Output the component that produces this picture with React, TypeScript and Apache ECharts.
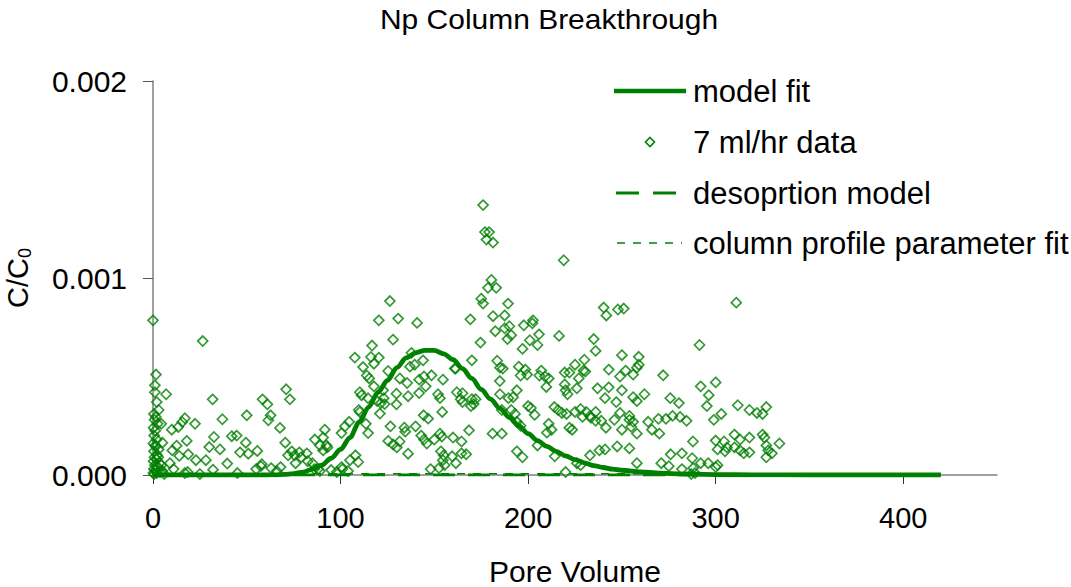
import React, { useEffect, useRef } from "react";
import * as echarts from "echarts";

const FONT = "'Liberation Sans', Arial, Helvetica, sans-serif";
const GREEN = "#008000";

const titleText = "Np Column Breakthrough";
const xAxisName = "Pore Volume";
const xTickValues = [0, 100, 200, 300, 400];
const xMax = 450;
const yMax = 0.002;
const yInterval = 0.001;

// Model fit curve (x = pore volume, y in units of 1e-4 C/C0)
const modelFitX = [0, 20, 40, 60, 65, 70, 75, 80, 85, 90, 95, 100, 105, 110, 115, 120, 125, 130, 135, 140, 145, 150, 155, 160, 165, 170, 175, 180, 185, 190, 195, 200, 205, 210, 215, 220, 225, 230, 235, 240, 245, 250, 260, 270, 280, 300, 320, 350, 380, 420];
const modelFitY_e4 = [0, 0, 0, 0, 0.01, 0.03, 0.07, 0.15, 0.3, 0.5, 0.85, 1.3, 1.9, 2.7, 3.45, 4.2, 4.8, 5.45, 5.95, 6.2, 6.33, 6.33, 6.15, 5.85, 5.4, 4.9, 4.35, 3.85, 3.38, 2.92, 2.5, 2.1, 1.75, 1.45, 1.2, 0.97, 0.78, 0.62, 0.48, 0.38, 0.3, 0.24, 0.16, 0.1, 0.06, 0.02, 0.005, 0, 0, 0];

// Desorption model and column profile parameter fit (both near zero)
const desorptionX = [0, 420];
const desorptionY_e4 = [0, 0];
const profileFitX = [0, 420];
const profileFitY_e4 = [0.06, 0.06];

// 7 ml/hr data: [pore volume, C/C0 in units of 1e-4]
const data7ml_e4: [number, number][] = [
  [0, 7.85], [1.6, 5.1], [1, 4.55], [1, 4.2], [7, 4.1], [2, 3.7], [0.5, 3.1], [1.5, 2.95], [0.8, 2.8], [2.5, 2.6],
  [4.4, 2.6], [0.3, 2.4], [1.2, 2.25], [0.6, 2.0], [2, 1.8], [0.2, 1.6], [1.5, 1.45], [3, 1.3], [0.5, 1.2], [2.2, 1.0],
  [0.8, 0.9], [1.8, 0.8], [0.3, 0.7], [3.5, 0.6], [1, 0.5], [2.6, 0.4], [0.4, 0.3], [1.4, 0.25], [5, 0.2], [0.2, 0.1],
  [2, 0.1], [3.8, 0.15], [6, 0.05], [0.6, 0.05], [1.2, 1.5], [2.8, 0.9], [4.5, 0.5], [5, 1.64], [10, 2.3], [3, 3.3],
  [26.5, 6.8], [31.8, 3.84], [71, 4.35], [73, 3.84], [58.4, 3.84], [61, 3.59], [50, 3.03], [37, 2.83], [22.4, 2.6], [17, 2.88],
  [15.6, 2.69], [13.5, 2.44], [62.7, 3.03], [61.5, 2.78], [67.7, 2.39], [42, 1.97], [44.6, 2.0], [32.5, 1.93], [18, 1.73], [12.6, 1.49],
  [49.5, 1.64], [30, 1.42], [35.7, 1.3], [70.5, 1.64], [46.4, 1.15], [50.8, 1.08], [55.6, 1.22], [10.3, 1.25], [18.8, 1.05], [14, 0.97],
  [22.9, 0.75], [28.2, 0.75], [39.6, 0.58], [32, 0.27], [17, 0.1], [18.5, 0.15], [55, 0.3], [57.5, 0.45], [58, 0.55], [63, 0.35],
  [68, 0.4], [74, 1.2], [75.5, 1.0], [78, 1.15], [82, 1.1], [72, 1.0], [76, 0.6], [9, 0.6], [11, 0.3], [25, 0.05],
  [45, 0.1], [66, 0.2],
  [126.3, 8.83], [120.4, 7.85], [130.7, 7.94], [140.8, 7.72], [128, 6.87], [116.8, 6.57], [107.6, 5.96], [116.2, 5.99], [120.4, 5.96], [112, 5.48],
  [117.8, 5.65], [114, 5.05], [115.3, 4.9], [125.4, 5.28], [137.8, 6.2], [144, 5.82], [137, 5.5], [139.5, 5.6], [131.6, 4.9], [135.5, 4.67],
  [141.9, 4.84], [145.4, 4.5], [148.5, 5.06], [144.5, 5.0], [154.6, 4.84], [160.9, 5.4], [117.8, 4.5], [122.7, 4.3], [110.3, 4.2], [111.2, 4.05],
  [114.6, 3.9], [129.8, 4.13], [136, 4.0], [141.9, 4.16], [152, 4.1], [153, 3.9], [123, 3.9], [123.5, 3.6], [119.5, 3.75], [121.5, 3.65],
  [129.8, 3.59], [121, 3.12], [110.3, 3.2], [109.7, 3.3], [154.2, 3.2], [144.3, 3.03], [146.7, 2.86], [104.6, 2.7], [102.3, 2.47], [100.5, 2.13],
  [113.5, 2.6], [114.7, 2.13], [126.6, 2.47], [134, 2.4], [134.5, 2.2], [140, 2.47], [143, 2.0], [144.5, 1.8], [150, 1.8], [153, 2.1],
  [154, 1.95], [125.4, 1.73], [128, 1.55], [130, 1.4], [131.5, 1.7], [136, 1.08], [146, 1.6], [153.5, 1.2], [155, 1.0], [154.5, 0.75],
  [159.5, 0.95], [148, 0.3], [152.5, 0.35], [155.5, 0.5], [91.6, 2.3], [90.7, 1.9], [86.3, 1.8], [89, 1.5], [92.5, 1.5], [90.7, 1.25],
  [93, 1.4], [79, 0.9], [82.5, 0.7], [86, 0.3], [89, 0.2], [100.5, 0.4], [105, 0.75], [109.4, 0.66], [88, 0.3], [85, 0.6],
  [95, 0.25], [98, 0.15], [101, 0.3], [104, 0.2], [108, 1.0],
  [176, 13.7], [177, 12.33], [179.2, 12.33], [177.8, 11.95], [181.3, 11.8], [219, 10.9], [180.4, 9.9], [178.6, 9.5], [183, 9.5], [175, 8.95],
  [176, 8.7], [189.3, 8.7], [169.2, 7.9], [181.3, 8.06], [187.5, 8.1], [182.5, 7.3], [187.5, 7.45], [190, 7.55], [189, 6.9], [191, 7.1],
  [197.7, 7.6], [202.6, 7.85], [202.3, 7.7], [205.8, 7.14], [216.5, 7.06], [174.6, 6.72], [200.9, 6.84], [205, 6.6], [197, 6.4], [170, 5.82],
  [183.5, 5.8], [185, 5.45], [186.5, 5.4], [195, 5.5], [198.5, 5.35], [199.5, 5.1], [196, 5.05], [207, 5.3], [209, 5.0], [206, 5.05],
  [211, 4.9], [184.9, 4.77], [209.7, 4.47], [219.5, 4.6], [219.5, 5.2], [222, 5.2], [225, 5.6], [230, 5.85], [229.5, 5.3], [230.5, 5.25],
  [227, 4.9], [226, 4.4], [220, 4.3], [221, 4.1], [161.4, 5.4], [162, 4.2], [165, 4.15], [164, 3.85], [165, 3.7], [170, 3.85],
  [172, 3.85], [169.5, 3.5], [171, 3.6], [185, 4.1], [189.5, 3.9], [192, 3.95], [194, 4.3], [186, 3.3], [191, 3.3], [193, 3.1],
  [194, 2.7], [196, 2.5], [200, 3.5], [201.5, 3.4], [203.5, 3.05], [214, 3.45], [216, 3.3], [218, 3.15], [220.5, 3.1], [225, 3.2],
  [228, 3.35], [231, 3.2], [233, 3.0], [229, 2.95], [233.5, 2.9], [211, 2.6], [212.5, 2.3], [210, 2.15], [222, 2.4], [223.5, 2.3],
  [168.5, 2.27], [160, 1.9], [164.5, 1.7], [167, 1.05], [164.5, 1.1], [161.5, 0.6], [181, 2.1], [186, 2.1], [214.2, 0.95], [220, 0.15],
  [233, 1.0], [226, 0.6], [228, 0.5], [194, 1.2], [205, 1.5], [197, 0.9],
  [240.3, 8.5], [241.7, 8.1], [247.9, 8.4], [251, 8.45], [311, 8.75], [291.4, 6.6], [235, 6.9], [236, 6.3], [250, 6.08], [259, 6.0],
  [259, 5.6], [258, 5.45], [252, 5.3], [256, 5.1], [243, 5.35], [249, 5.0], [272, 5.06], [292, 4.5], [300, 4.7], [296.3, 4.05],
  [295.3, 3.5], [237, 4.4], [243, 4.45], [250, 4.3], [262, 4.1], [256, 3.95], [241, 3.9], [247, 3.7], [258, 3.75], [275.8, 3.9],
  [280.4, 3.65], [311.8, 3.54], [318, 3.3], [322, 3.15], [325, 3.1], [327, 3.45], [236, 3.2], [236, 2.75], [239, 2.75], [241.5, 2.4],
  [246, 2.8], [249, 3.15], [254, 3.0], [254, 2.8], [256, 2.7], [299, 2.8], [303, 3.1], [264, 2.7], [269.5, 2.85], [273.5, 2.85],
  [277, 3.0], [281, 2.95], [284.5, 2.75], [250, 2.3], [255, 2.45], [258, 2.1], [266, 2.3], [270, 2.1], [287.9, 1.7], [300, 1.75],
  [304.5, 1.7], [310, 2.05], [313, 1.8], [318, 1.9], [325, 2.05], [326, 1.9], [327, 1.5], [334, 1.6], [306, 1.4], [310, 1.4],
  [313, 1.25], [305, 1.2], [315, 1.1], [318, 1.15], [301, 1.3], [328, 1.25], [330, 1.1], [327, 0.9], [238, 1.25], [241, 1.3],
  [247.5, 1.45], [254, 1.35], [276, 1.05], [282, 1.1], [287.5, 0.85], [292, 0.6], [296, 0.6], [301, 0.5], [300, 0.4], [258, 0.6],
  [271, 0.6], [275, 0.45], [282, 0.3], [288, 0.35], [289, 0.1], [287, 0.05],
];

const SERIES_NAMES = ["model fit", "7 ml/hr data", "desoprtion model", "column profile parameter fit"];

const E4 = 1e-4;
const toPairs = (xs: number[], ys: number[]) => xs.map((x, i) => [x, ys[i] * E4]);

function legendGraphics() {
  const textX = 693;
  const rows = [91, 142, 193, 243];
  const els: any[] = [];
  els.push({ type: "line", shape: { x1: 614, y1: rows[0], x2: 686, y2: rows[0] }, style: { stroke: GREEN, lineWidth: 4.5 } });
  els.push({
    type: "polygon",
    shape: { points: [[650, rows[1] - 4.5], [654.5, rows[1]], [650, rows[1] + 4.5], [645.5, rows[1]]] },
    style: { fill: "none", stroke: GREEN, lineWidth: 1.6 },
  });
  els.push({ type: "line", shape: { x1: 616, y1: rows[2], x2: 676, y2: rows[2] }, style: { stroke: GREEN, lineWidth: 3, lineDash: [23, 14] } });
  els.push({ type: "line", shape: { x1: 617, y1: rows[3], x2: 682, y2: rows[3] }, style: { stroke: GREEN, lineWidth: 1.5, lineDash: [8, 8] } });
  SERIES_NAMES.forEach((name, i) => {
    els.push({
      type: "text",
      x: textX,
      y: rows[i],
      style: {
        text: name,
        font: `31px ${FONT}`,
        fill: "#000",
        align: "left",
        verticalAlign: "middle",
        textAlign: "left",
        textVerticalAlign: "middle",
      },
    });
  });
  return els;
}

export default function App() {
  const ref = useRef<HTMLDivElement>(null);

  useEffect(() => {
    if (!ref.current) return;
    const chart = echarts.init(ref.current, undefined, { renderer: "svg" });
    const option: any = {
      animation: false,
      backgroundColor: "#ffffff",
      textStyle: { fontFamily: FONT },
      graphic: [
        {
          type: "text",
          x: 549,
          y: 6,
          scaleX: 1.11,
          style: {
            text: titleText,
            font: `27px ${FONT}`,
            fill: "#000",
            align: "center",
            verticalAlign: "top",
            textAlign: "center",
            textVerticalAlign: "top",
          },
        },
        ...legendGraphics(),
      ],
      grid: { left: 153, right: 74, top: 81, bottom: 112, containLabel: false, outerBoundsMode: "none" },
      xAxis: {
        type: "value",
        min: 0,
        max: xMax,
        interval: 100,
        name: xAxisName,
        nameLocation: "middle",
        nameGap: 81,
        nameTextStyle: { fontSize: 30, color: "#000", fontFamily: FONT },
        axisLine: { show: true, onZero: true, lineStyle: { color: "#808080", width: 1.5 } },
        axisTick: { show: true, length: 9, customValues: xTickValues, lineStyle: { color: "#333", width: 1 } },
        axisLabel: { customValues: xTickValues, fontSize: 29, color: "#000", margin: 28, fontFamily: FONT },
        splitLine: { show: false },
      },
      yAxis: {
        type: "value",
        min: 0,
        max: yMax,
        interval: yInterval,
        name: "{a|C/C}{b|0}",
        nameLocation: "middle",
        nameRotate: 90,
        nameGap: 121,
        nameTextStyle: {
          color: "#000",
          fontSize: 29,
          fontFamily: FONT,
          rich: {
            a: { fontSize: 29, color: "#000", fontFamily: FONT },
            b: { fontSize: 18, color: "#000", fontFamily: FONT, verticalAlign: "bottom", padding: [0, 0, -2, 0] },
          },
        },
        axisLine: { show: true, lineStyle: { color: "#808080", width: 1.5 } },
        axisTick: { show: true, length: 10, lineStyle: { color: "#555", width: 1 } },
        axisLabel: {
          fontSize: 30,
          color: "#000",
          margin: 26,
          fontFamily: FONT,
          formatter: (v: number) => v.toFixed(3),
        },
        splitLine: { show: false },
      },
      series: [
        {
          name: SERIES_NAMES[1],
          type: "scatter",
          symbol: "diamond",
          symbolSize: 10,
          itemStyle: { color: "rgba(255,255,255,0)", borderColor: GREEN, borderWidth: 1.7 },
          data: data7ml_e4.map(([x, y]) => [x, y * E4]),
          z: 2,
        },
        {
          name: SERIES_NAMES[2],
          type: "line",
          symbol: "none",
          lineStyle: { color: GREEN, width: 3, type: [22, 13] },
          itemStyle: { color: GREEN },
          data: toPairs(desorptionX, desorptionY_e4),
          z: 3,
        },
        {
          name: SERIES_NAMES[3],
          type: "line",
          symbol: "none",
          lineStyle: { color: GREEN, width: 1.5, type: [8, 8] },
          itemStyle: { color: GREEN },
          data: toPairs(profileFitX, profileFitY_e4),
          z: 3,
        },
        {
          name: SERIES_NAMES[0],
          type: "line",
          symbol: "none",
          smooth: 0.3,
          smoothMonotone: "x",
          lineStyle: { color: GREEN, width: 4.8 },
          itemStyle: { color: GREEN },
          data: toPairs(modelFitX, modelFitY_e4),
          z: 4,
        },
      ],
    };
    chart.setOption(option);
    return () => chart.dispose();
  }, []);

  return (
    <div
      ref={ref}
      style={{ position: "fixed", left: 0, top: 0, width: 1071, height: 587, background: "#fff" }}
    />
  );
}
